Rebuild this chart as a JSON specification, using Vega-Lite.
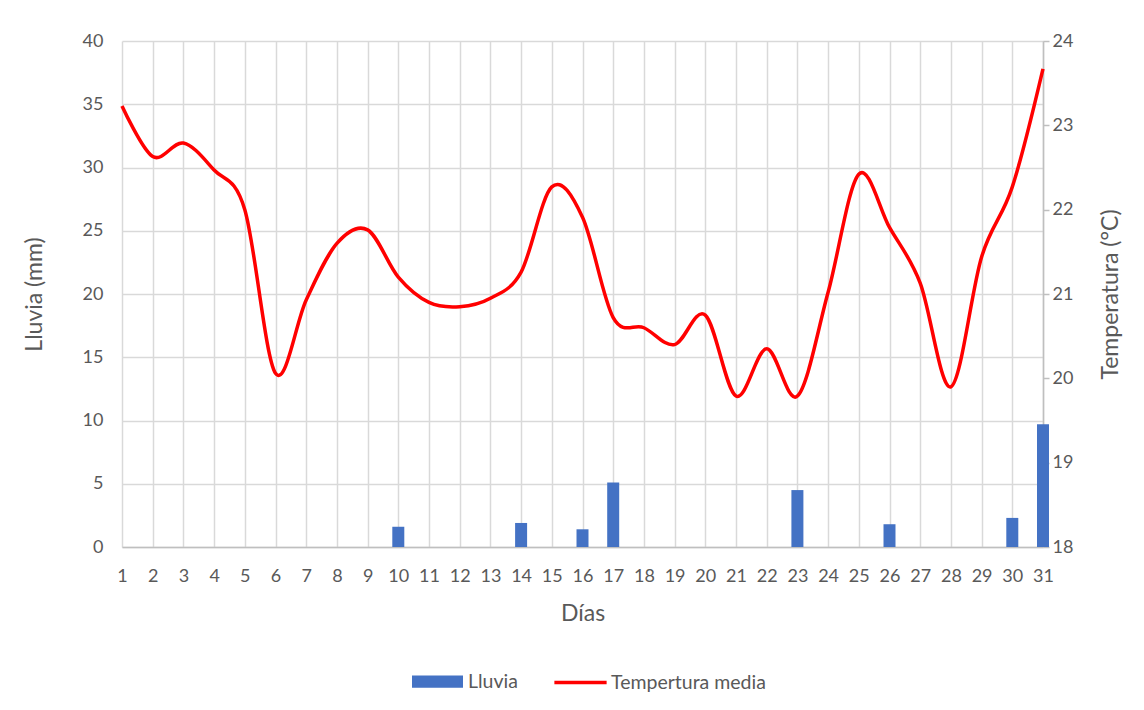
{
  "$schema": "https://vega.github.io/schema/vega-lite/v6.json",
  "width": 921,
  "height": 506,
  "autosize": {"type": "none"},
  "padding": {"left": 122, "top": 41, "right": 101, "bottom": 163},
  "background": "white",
  "config": {
    "font": "Lato",
    "view": {"stroke": null},
    "axis": {
      "labelFont": "Lato",
      "titleFont": "Lato",
      "labelFontSize": 18,
      "titleFontSize": 23,
      "titleFontWeight": "normal",
      "labelColor": "#595959",
      "titleColor": "#595959",
      "gridColor": "#d9d9d9",
      "gridWidth": 1.5
    }
  },
  "data": {
    "values": [
      {"dia": 1, "lluvia": 0, "temp": 23.23},
      {"dia": 2, "lluvia": 0, "temp": 22.63},
      {"dia": 3, "lluvia": 0, "temp": 22.79},
      {"dia": 4, "lluvia": 0, "temp": 22.47},
      {"dia": 5, "lluvia": 0, "temp": 22.0},
      {"dia": 6, "lluvia": 0, "temp": 20.06},
      {"dia": 7, "lluvia": 0, "temp": 20.93},
      {"dia": 8, "lluvia": 0, "temp": 21.6},
      {"dia": 9, "lluvia": 0, "temp": 21.76},
      {"dia": 10, "lluvia": 1.6, "temp": 21.2},
      {"dia": 11, "lluvia": 0, "temp": 20.9},
      {"dia": 12, "lluvia": 0, "temp": 20.85},
      {"dia": 13, "lluvia": 0, "temp": 20.95},
      {"dia": 14, "lluvia": 1.9, "temp": 21.26},
      {"dia": 15, "lluvia": 0, "temp": 22.27},
      {"dia": 16, "lluvia": 1.4, "temp": 21.91},
      {"dia": 17, "lluvia": 5.1, "temp": 20.72},
      {"dia": 18, "lluvia": 0, "temp": 20.6},
      {"dia": 19, "lluvia": 0, "temp": 20.4},
      {"dia": 20, "lluvia": 0, "temp": 20.75},
      {"dia": 21, "lluvia": 0, "temp": 19.79},
      {"dia": 22, "lluvia": 0, "temp": 20.35},
      {"dia": 23, "lluvia": 4.5, "temp": 19.79},
      {"dia": 24, "lluvia": 0, "temp": 21.02},
      {"dia": 25, "lluvia": 0, "temp": 22.42},
      {"dia": 26, "lluvia": 1.8, "temp": 21.79},
      {"dia": 27, "lluvia": 0, "temp": 21.13},
      {"dia": 28, "lluvia": 0, "temp": 19.9},
      {"dia": 29, "lluvia": 0, "temp": 21.44},
      {"dia": 30, "lluvia": 2.3, "temp": 22.27},
      {"dia": 31, "lluvia": 9.7, "temp": 23.67}
    ]
  },
  "encoding": {
    "x": {
      "field": "dia",
      "type": "quantitative",
      "scale": {"domain": [1, 31], "nice": false, "zero": false, "padding": 0},
      "axis": {
        "title": "Días",
        "values": [1,2,3,4,5,6,7,8,9,10,11,12,13,14,15,16,17,18,19,20,21,22,23,24,25,26,27,28,29,30,31],
        "tickCount": 31,
        "grid": true,
        "domainColor": "#bfbfbf",
        "domainWidth": 1.5,
        "ticks": false,
        "labelOverlap": false,
        "labelPadding": 20,
        "titlePadding": 17,
        "labelFlush": false
      }
    }
  },
  "layer": [
    {
      "mark": {"type": "bar", "orient": "vertical", "width": 12},
      "encoding": {
        "y": {
          "field": "lluvia",
          "type": "quantitative",
          "scale": {"domain": [0, 40], "nice": false},
          "axis": {
            "title": "Lluvia (mm)",
            "values": [0, 5, 10, 15, 20, 25, 30, 35, 40],
            "grid": true,
            "domain": false,
            "ticks": false,
            "labelPadding": 19,
            "titlePadding": 36
          }
        },
        "color": {
          "datum": "Lluvia",
          "type": "nominal",
          "scale": {"domain": ["Lluvia", "Tempertura media"], "range": ["#4472C4", "#FF0000"]},
          "legend": {
            "title": null,
            "orient": "none",
            "legendX": 290,
            "legendY": 615,
            "direction": "horizontal",
            "labelFont": "Lato",
            "labelFontSize": 19.5,
            "labelColor": "#595959",
            "symbolSize": 2256,
            "symbolStrokeWidth": 3.5,
            "labelOffset": 5,
            "columnPadding": 29,
            "encode": {
              "symbols": {
                "update": {
                  "shape": {"signal": "datum.value === 'Lluvia' ? 'M-1,-0.179H1V0.179H-1Z' : 'M-1.1,0H1.1'"},
                  "fill": {"signal": "datum.value === 'Lluvia' ? '#4472C4' : 'transparent'"},
                  "stroke": {"signal": "datum.value === 'Lluvia' ? '#4472C4' : '#FF0000'"},
                  "strokeWidth": {"value": 3.5},
                  "opacity": {"value": 1}
                }
              }
            }
          }
        }
      }
    },
    {
      "mark": {"type": "line", "interpolate": "cardinal", "strokeWidth": 3.5},
      "encoding": {
        "y": {
          "field": "temp",
          "type": "quantitative",
          "scale": {"domain": [18, 24], "nice": false, "zero": false},
          "axis": {
            "orient": "right",
            "title": "Temperatura (°C)",
            "titleAngle": 270,
            "values": [18, 19, 20, 21, 22, 23, 24],
            "grid": false,
            "domainColor": "#bfbfbf",
            "domainWidth": 1.5,
            "tickColor": "#bfbfbf",
            "tickWidth": 1.5,
            "tickSize": 6,
            "labelPadding": 3,
            "titlePadding": 50
          }
        },
        "color": {"datum": "Tempertura media", "type": "nominal"}
      }
    }
  ],
  "resolve": {"scale": {"y": "independent"}}
}
